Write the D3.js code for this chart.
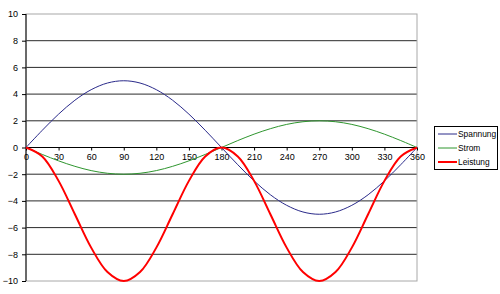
<!DOCTYPE html>
<html>
<head>
<meta charset="utf-8">
<script src="https://cdn.jsdelivr.net/npm/d3@7"></script>
<style>
  body { margin: 0; background: #fff; }
  text { font-family: "Liberation Sans", Arial, sans-serif; }
</style>
</head>
<body>
<script>
var width = 500,
  height = 294,
  marginLeft = 26,
  marginTop = 14,
  plotWidth = 391,
  plotHeight = 267;

// angle in degrees (category axis)
var angles = [0, 15, 30, 45, 60, 75, 90, 105, 120, 135, 150, 165, 180,
  195, 210, 225, 240, 255, 270, 285, 300, 315, 330, 345, 360];

var spannung = [0, 1.29, 2.5, 3.54, 4.33, 4.83, 5, 4.83, 4.33, 3.54, 2.5, 1.29, 0,
  -1.29, -2.5, -3.54, -4.33, -4.83, -5, -4.83, -4.33, -3.54, -2.5, -1.29, 0];

var strom = [0, -0.52, -1, -1.41, -1.73, -1.93, -2, -1.93, -1.73, -1.41, -1, -0.52, 0,
  0.52, 1, 1.41, 1.73, 1.93, 2, 1.93, 1.73, 1.41, 1, 0.52, 0];

var leistung = [0, -0.67, -2.5, -5, -7.5, -9.33, -10, -9.33, -7.5, -5, -2.5, -0.67, 0,
  -0.67, -2.5, -5, -7.5, -9.33, -10, -9.33, -7.5, -5, -2.5, -0.67, 0];

var seriesNames = ["Spannung", "Strom", "Leistung"];
var xTickValues = [0, 30, 60, 90, 120, 150, 180, 210, 240, 270, 300, 330, 360];
var yTickValues = [-10, -8, -6, -4, -2, 0, 2, 4, 6, 8, 10];

var colors = ["#2a2a8a", "#2f962f", "#ff0000"],
  strokeWidths = [1, 1, 2];

var svg = d3
  .select("body")
  .append("svg")
  .attr("width", width)
  .attr("height", height);

var xScale = d3
  .scalePoint()
  .domain(angles)
  .range([marginLeft, marginLeft + plotWidth]);

var yScale = d3
  .scaleLinear()
  .domain([-10, 10])
  .range([marginTop + plotHeight, marginTop]);

// gridlines
svg
  .append("g")
  .selectAll("line")
  .data(yTickValues.filter((d) => d != 10 && d != -10 && d != 0))
  .enter()
  .append("line")
  .attr("x1", marginLeft)
  .attr("x2", marginLeft + plotWidth)
  .attr("y1", (d) => yScale(d))
  .attr("y2", (d) => yScale(d))
  .attr("stroke", "#2a2a2a")
  .attr("stroke-width", 1);

// plot area border
svg
  .append("rect")
  .attr("x", marginLeft)
  .attr("y", yScale(10))
  .attr("width", plotWidth)
  .attr("height", yScale(-10) - yScale(10))
  .attr("fill", "none")
  .attr("stroke", "#a8a8a8");

var yAxis = d3.axisLeft(yScale).tickValues(yTickValues).tickSize(4).tickPadding(4);
var xAxis = d3.axisBottom(xScale).tickValues(xTickValues).tickSize(3).tickPadding(3);

var yG = svg
  .append("g")
  .attr("transform", `translate(${marginLeft},0)`)
  .call(yAxis);

var xG = svg
  .append("g")
  .attr("transform", `translate(0,${yScale(0)})`)
  .call(xAxis);

[xG, yG].forEach((g) => {
  g.select(".domain").attr("stroke", "#000");
  g.selectAll(".tick line").attr("stroke", "#000");
  g.selectAll("text")
    .attr("fill", "#000")
    .style("font-size", "9px")
    .style("font-family", '"Liberation Sans", Arial, sans-serif');
});
yG.select(".domain").attr("d", `M0,${yScale(10)}V${yScale(-10)}`);
xG.select(".domain").attr("d", `M${marginLeft},0H${marginLeft + plotWidth}`);

var line = d3
  .line()
  .x((d, i) => xScale(angles[i]))
  .y((d) => yScale(d))
  .curve(d3.curveCatmullRom.alpha(0.5));

[spannung, strom, leistung].forEach((values, i) => {
  svg
    .append("path")
    .datum(values)
    .attr("d", line)
    .attr("fill", "none")
    .attr("stroke", colors[i])
    .attr("stroke-width", strokeWidths[i])
    .attr("stroke-linejoin", "round");
});

// legend
var legend = svg.append("g").attr("id", "legend");

legend
  .append("rect")
  .attr("x", 434.5)
  .attr("y", 126.5)
  .attr("width", 63)
  .attr("height", 43)
  .attr("fill", "#fff")
  .attr("stroke", "#000");

seriesNames.forEach((name, i) => {
  var y = 134 + i * 14;
  legend
    .append("line")
    .attr("x1", 438)
    .attr("x2", 457)
    .attr("y1", y)
    .attr("y2", y)
    .attr("stroke", colors[i])
    .attr("stroke-width", strokeWidths[i]);
  legend
    .append("text")
    .attr("x", 458)
    .attr("y", y)
    .attr("dy", "0.35em")
    .style("font-size", "8.4px")
    .text(name);
});
</script>
</body>
</html>
